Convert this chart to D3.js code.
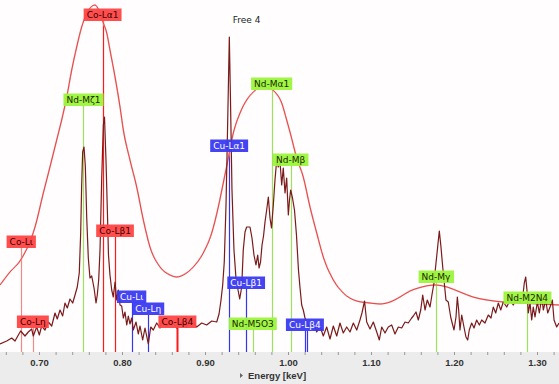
<!DOCTYPE html>
<html><head><meta charset="utf-8">
<script src="https://cdn.jsdelivr.net/npm/d3@7/dist/d3.min.js"></script>
<style>body{margin:0;background:#fff}svg{display:block}</style>
</head><body>
<svg id="chart" width="559" height="384"></svg>
<script>
// ---- data ----
const specEnergy = [0.6524,0.6605,0.6665,0.6705,0.6745,0.6773,0.6825,0.6865,0.6906,0.6925,0.6966,0.6998,0.7026,0.7066,0.7106,0.7147,0.7187,0.7214,0.7247,0.7279,0.7307,0.7335,0.7367,0.7400,0.7428,0.7455,0.7479,0.7496,0.7508,0.7520,0.7536,0.7552,0.7569,0.7588,0.7608,0.7629,0.7657,0.7681,0.7696,0.7713,0.7729,0.7749,0.7769,0.7783,0.7801,0.7819,0.7831,0.7849,0.7870,0.7889,0.7910,0.7930,0.7949,0.7970,0.7990,0.8010,0.8030,0.8051,0.8070,0.8090,0.8111,0.8130,0.8163,0.8190,0.8211,0.8243,0.8271,0.8311,0.8340,0.8371,0.8412,0.8452,0.8472,0.8532,0.8593,0.8653,0.8713,0.8773,0.8834,0.8894,0.8954,0.9014,0.9075,0.9135,0.9163,0.9187,0.9207,0.9226,0.9247,0.9263,0.9277,0.9287,0.9301,0.9319,0.9343,0.9367,0.9392,0.9412,0.9436,0.9455,0.9476,0.9496,0.9536,0.9560,0.9584,0.9608,0.9629,0.9645,0.9663,0.9681,0.9699,0.9717,0.9737,0.9757,0.9777,0.9795,0.9817,0.9837,0.9858,0.9877,0.9898,0.9918,0.9937,0.9958,0.9978,0.9998,1.0012,1.0026,1.0048,1.0072,1.0096,1.0120,1.0139,1.0159,1.0178,1.0199,1.0223,1.0259,1.0299,1.0340,1.0379,1.0419,1.0460,1.0500,1.0540,1.0581,1.0620,1.0660,1.0701,1.0741,1.0781,1.0822,1.0861,1.0885,1.0916,1.0942,1.0982,1.1022,1.1063,1.1094,1.1123,1.1163,1.1202,1.1243,1.1283,1.1323,1.1364,1.1404,1.1443,1.1484,1.1504,1.1536,1.1564,1.1593,1.1617,1.1645,1.1672,1.1705,1.1732,1.1753,1.1777,1.1797,1.1817,1.1837,1.1858,1.1877,1.1897,1.1925,1.1954,1.1978,1.1994,1.2018,1.2034,1.2050,1.2066,1.2087,1.2114,1.2138,1.2159,1.2178,1.2207,1.2235,1.2267,1.2299,1.2328,1.2367,1.2407,1.2440,1.2467,1.2496,1.2528,1.2557,1.2588,1.2629,1.2669,1.2708,1.2749,1.2789,1.2822,1.2841,1.2858,1.2873,1.2889,1.2910,1.2930,1.2949,1.2970,1.2998,1.3022,1.3051,1.3070,1.3099,1.3123,1.3151,1.3179,1.3199,1.3231,1.3259];
const specCounts = [80,110,140,110,170,210,160,200,230,160,250,170,260,220,300,260,390,330,420,360,490,440,530,490,570,650,790,1190,1670,2000,2050,1860,1340,940,740,760,640,490,570,720,1020,1720,2270,2350,1920,1370,970,770,620,550,700,520,620,470,460,340,400,270,360,280,340,220,300,180,260,120,240,80,250,220,290,240,320,260,310,240,300,250,320,250,290,270,310,300,380,520,670,900,1470,2120,2720,3150,2520,1620,1020,740,620,530,650,1020,1200,1250,1250,1140,970,870,970,840,900,1070,1160,1300,1420,1550,1340,1240,1470,1720,1920,1850,1900,1670,1840,1590,1740,1370,1520,1620,1540,1420,1170,820,640,470,420,340,280,240,300,200,260,160,250,130,260,160,290,190,250,200,290,220,320,390,510,300,230,300,200,120,250,190,250,270,180,250,240,300,290,340,360,400,320,420,570,420,520,450,590,690,890,1050,1210,1050,850,690,520,500,350,270,220,350,550,420,220,370,250,150,120,220,290,240,320,270,320,290,370,340,450,390,490,420,500,450,520,470,540,490,550,690,750,620,390,490,320,450,350,500,390,550,420,520,390,450,520,320,250,290];

const envEnergy = [0.6524,0.6644,0.6773,0.6946,0.7046,0.7126,0.7207,0.7267,0.7328,0.7388,0.7448,0.7508,0.7560,0.7669,0.7769,0.7810,0.7849,0.7910,0.7970,0.8010,0.8090,0.8171,0.8251,0.8331,0.8452,0.8572,0.8653,0.8732,0.8853,0.8973,0.9075,0.9154,0.9214,0.9263,0.9335,0.9416,0.9496,0.9576,0.9677,0.9757,0.9837,0.9918,0.9978,1.0018,1.0099,1.0178,1.0259,1.0340,1.0419,1.0540,1.0660,1.0822,1.0982,1.1102,1.1223,1.1343,1.1464,1.1564,1.1765,1.1910,1.2066,1.2223,1.2392,1.2584,1.2789,1.3259];
const envCounts = [670,800,920,1250,1590,1850,2120,2320,2550,2820,3050,3250,3370,3470,3290,3190,3020,2750,2450,2220,1920,1650,1320,1050,850,770,750,770,850,990,1190,1450,1690,1890,2190,2390,2520,2600,2650,2640,2600,2490,2320,2200,1940,1750,1450,1190,950,720,590,510,490,480,500,550,610,640,670,650,600,550,520,500,490,470];

const markerNames   = ["Co-Lι","Co-Lη","Nd-Mζ1","Co-Lα1","Co-Lβ1","Cu-Lι","Cu-Lη","Co-Lβ4","Cu-Lα1","Cu-Lβ1","Nd-M5O3","Nd-Mα1","Nd-Mβ","Cu-Lβ4","","Nd-Mγ","Nd-M2N4"];
const markerEnergy  = [0.678,0.692,0.753,0.776,0.791,0.811,0.831,0.866,0.9285,0.949,0.957,0.9797,1.0025,1.0196,1.0218,1.1777,1.2877];
const markerHeight  = [1040,240,2460,3310,1150,490,370,240,2000,630,220,2620,1860,210,210,690,480];
const markerElement = ["CoMinor","CoMinor","Nd","Co","Co","Cu","Cu","Co","Cu","Cu","Nd","Nd","Nd","Cu","Cu","Nd","Nd"];

const freeLabel = "Free 4";
const freeEnergy = 0.9287;
const freeHeight = 3270;

const tickValues = [0.70,0.80,0.90,1.00,1.10,1.20,1.30];
const tickLabels = ["0.70","0.80","0.90","1.00","1.10","1.20","1.30"];
const axisTitle = "Energy [keV]";

// ---- drawing ----
const W = 559, H = 384, plotBottom = 352;
const svg = d3.select("#chart");
const x = d3.scaleLinear().domain([0.6524, 1.3259]).range([0, W]);
const y = d3.scaleLinear().domain([0, 3520]).range([plotBottom, 0]);

svg.append("rect").attr("x",0).attr("y",0).attr("width",W).attr("height",plotBottom).attr("fill","#fffdfd");
svg.append("rect").attr("x",0).attr("y",plotBottom).attr("width",W).attr("height",H-plotBottom).attr("fill","#ececec");

const style = {
  Co:      {line:"#ff1a1a", box:"#ff4545", text:"#3a0000"},
  CoMinor: {line:"#f08a8a", box:"#ff4545", text:"#3a0000"},
  Cu:      {line:"#3535f0", box:"#3a3af2", text:"#ffffff"},
  Nd:      {line:"#9ee060", box:"#9cf43c", text:"#1a2a00"}
};

// marker lines
const markers = markerNames.map((n,i)=>({name:n,e:markerEnergy[i],h:markerHeight[i],el:markerElement[i]}));
svg.append("g").selectAll("line").data(markers).join("line")
  .attr("x1",d=>Math.round(x(d.e))+0.5).attr("x2",d=>Math.round(x(d.e))+0.5)
  .attr("y1",d=>y(d.h)).attr("y2",plotBottom)
  .attr("stroke",d=>style[d.el].line)
  .attr("stroke-width",d=>d.name==="Co-Lβ4"?2:1.2);

// envelope spectrum
const env = envEnergy.map((e,i)=>[e,envCounts[i]]);
const envLine = d3.line().x(d=>x(d[0])).y(d=>y(d[1])).curve(d3.curveMonotoneX);
svg.append("path").datum(env)
  .attr("fill","none").attr("stroke","#f6b0b0").attr("stroke-width",1.6)
  .attr("d", envLine);
svg.append("path").datum(env)
  .attr("fill","none").attr("stroke","#e02828").attr("stroke-width",0.8)
  .attr("d", envLine);

// main spectrum
const spec = specEnergy.map((e,i)=>[e,specCounts[i]]);
svg.append("path").datum(spec)
  .attr("fill","none").attr("stroke","#7a1a1a").attr("stroke-width",1.2).attr("stroke-linejoin","round")
  .attr("d", d3.line().x(d=>x(d[0])).y(d=>y(d[1])));

// marker labels
const lg = svg.append("g").attr("font-family","'DejaVu Sans', Verdana, sans-serif").attr("font-size","9px");
markers.filter(d=>d.name).forEach(d=>{
  const g = lg.append("g");
  const t = g.append("text").text(d.name).attr("text-anchor","middle")
    .attr("x", x(d.e)).attr("y", y(d.h)-3.2).attr("fill", style[d.el].text);
  const bb = t.node().getBBox();
  g.insert("rect","text").attr("x",bb.x-3).attr("y",y(d.h)-12.5).attr("width",bb.width+6).attr("height",12.5)
    .attr("fill",style[d.el].box).attr("opacity",0.95);
});
// free label
{
  const g = lg.append("g");
  const t = g.append("text").text(freeLabel).attr("x", x(freeEnergy)+3.5).attr("y", y(freeHeight)-2.5).attr("fill","#222");
  const bb = t.node().getBBox();
  g.insert("rect","text").attr("x",bb.x-2).attr("y",y(freeHeight)-11).attr("width",bb.width+4).attr("height",11).attr("fill","#ffffff");
}

// axis
const minor = d3.range(0.66, 1.33, 0.02);
svg.append("g").selectAll("line").data(minor).join("line")
  .attr("x1",d=>x(d)).attr("x2",d=>x(d)).attr("y1",plotBottom).attr("y2",plotBottom+3)
  .attr("stroke","#999").attr("stroke-width",1);
svg.append("g").selectAll("text").data(tickValues).join("text")
  .attr("x",d=>x(d)).attr("y",366).attr("text-anchor","middle")
  .attr("font-family","'Liberation Sans', Arial, sans-serif").attr("font-weight","bold").attr("font-size","9.5px")
  .attr("fill","#333").text((d,i)=>tickLabels[i]);
svg.append("path").attr("d","M240,373 L243,375.5 L240,378 Z").attr("fill","#666");
svg.append("text").attr("x",248).attr("y",379).attr("font-family","'Liberation Sans', Arial, sans-serif")
  .attr("font-weight","bold").attr("font-size","9.5px").attr("fill","#333").text(axisTitle);
</script>
</body></html>
